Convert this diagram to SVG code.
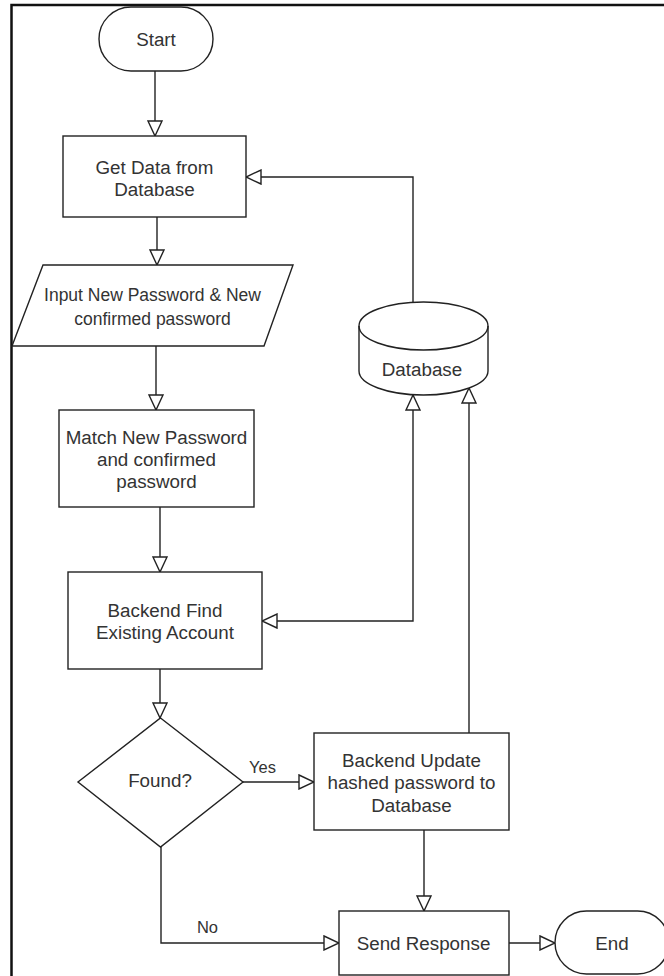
<svg xmlns="http://www.w3.org/2000/svg" width="664" height="976" viewBox="0 0 664 976">
<style>
.s{fill:#fff;stroke:#222;stroke-width:1.4}
.c{fill:none;stroke:#222;stroke-width:1.4}
.t{font-family:"Liberation Sans",Arial,sans-serif;font-size:18.8px;fill:#333;text-anchor:middle}
.sm{font-size:17.5px}
.lb{font-size:16.5px}
</style>
<defs>
<marker id="ah" viewBox="0 0 17 16" refX="16" refY="8" markerWidth="17" markerHeight="16" markerUnits="userSpaceOnUse" orient="auto-start-reverse">
<path d="M1,1 L16,8 L1,15 Z" fill="#fff" stroke="#222" stroke-width="1.4"/>
</marker>
</defs>
<rect width="664" height="976" fill="#fff"/>
<g id="frame">
<path d="M11.5 976 V5 H664" fill="none" stroke="#111" stroke-width="2.5"/>
</g>
<g id="connectors">
<path class="c" d="M155 71 V136" marker-end="url(#ah)"/>
<path class="c" d="M157 217 V265" marker-end="url(#ah)"/>
<path class="c" d="M156 346 V410" marker-end="url(#ah)"/>
<path class="c" d="M160 507 V572" marker-end="url(#ah)"/>
<path class="c" d="M160 669 V718" marker-end="url(#ah)"/>
<path class="c" d="M243 782 H314" marker-end="url(#ah)"/>
<path class="c" d="M161 847 V943 H339" marker-end="url(#ah)"/>
<path class="c" d="M424 830 V911" marker-end="url(#ah)"/>
<path class="c" d="M509 943 H555" marker-end="url(#ah)"/>
<path class="c" d="M413 302 V177 H246" marker-end="url(#ah)"/>
<path class="c" d="M413 395 V621 H262" marker-start="url(#ah)" marker-end="url(#ah)"/>
<path class="c" d="M469 733 V388" marker-end="url(#ah)"/>
<text class="t lb" x="262.5" y="773">Yes</text>
<text class="t lb" x="207.5" y="933">No</text>
</g>
<g id="start">
<rect class="s" x="99" y="7" width="114" height="64" rx="32" ry="32"/>
<text class="t" x="156" y="45.5">Start</text>
</g>
<g id="getData">
<rect class="s" x="63" y="136" width="183" height="81"/>
<text class="t" x="154.5" y="173.5">Get Data from</text>
<text class="t" x="154.5" y="195.5">Database</text>
</g>
<g id="input">
<polygon class="s" points="43,265 293,265 264,346 12,346"/>
<text class="t sm" x="152.5" y="301">Input New Password &amp; New</text>
<text class="t sm" x="152.5" y="325">confirmed password</text>
</g>
<g id="match">
<rect class="s" x="59" y="410" width="195" height="97"/>
<text class="t" x="156.5" y="443.5">Match New Password</text>
<text class="t" x="156.5" y="465.5">and confirmed</text>
<text class="t" x="156.5" y="487.5">password</text>
</g>
<g id="findAccount">
<rect class="s" x="68" y="572" width="194" height="97"/>
<text class="t" x="165" y="616.5">Backend Find</text>
<text class="t" x="165" y="638.5">Existing Account</text>
</g>
<g id="found">
<polygon class="s" points="160.5,718 243,782 160.5,847 78,782"/>
<text class="t" x="160" y="786.5">Found?</text>
</g>
<g id="database">
<path class="s" d="M359 326 A64.5 24 0 0 1 488 326 V371 A64.5 24 0 0 1 359 371 Z"/>
<path class="c" d="M359 326 A64.5 24 0 0 0 488 326"/>
<text class="t" x="422" y="375.5">Database</text>
</g>
<g id="update">
<rect class="s" x="314" y="733" width="195" height="97"/>
<text class="t" x="411.5" y="766.5">Backend Update</text>
<text class="t" x="411.5" y="789">hashed password to</text>
<text class="t" x="411.5" y="811.5">Database</text>
</g>
<g id="sendResponse">
<rect class="s" x="339" y="911" width="170" height="64"/>
<text class="t" x="423.5" y="949.5">Send Response</text>
</g>
<g id="end">
<rect class="s" x="555" y="911" width="114" height="63" rx="31.5" ry="31.5"/>
<text class="t" x="612" y="949.5">End</text>
</g>
</svg>
